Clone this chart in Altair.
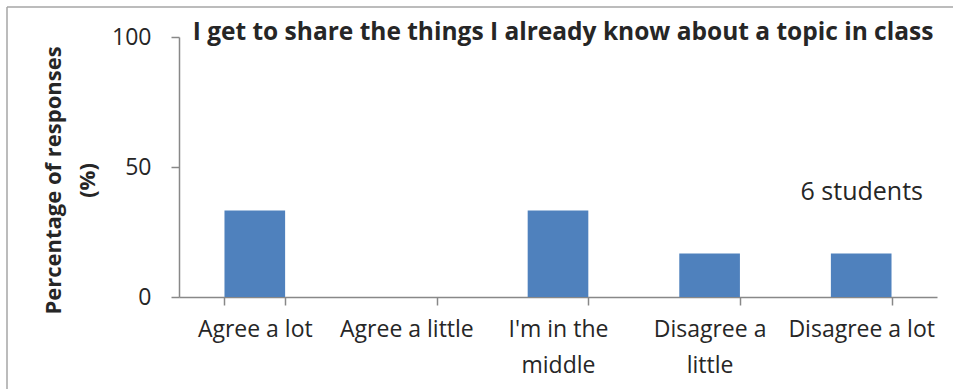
import altair as alt
import pandas as pd

# Survey responses (6 students), percent of responses per option
categories = ["Agree a lot", "Agree a little", "I'm in the middle", "Disagree a little", "Disagree a lot"]
percentages = [33.3, 0.0, 33.3, 16.7, 16.7]
y_ticks = [0, 50, 100]

title_text = "I get to share the things I already know about a topic in class"
note_text = "6 students"

# Two-line tick labels for the longer categories
wrapped = {"I'm in the middle": ["I'm in the", "middle"], "Disagree a little": ["Disagree a", "little"]}

label_expr = " : ".join(
    [f"datum.value == \"{k}\" ? {v!r}" for k, v in wrapped.items()] + ["datum.value"]
)

FONT = "Open Sans"
TEXT = "#262626"
W, H = 758, 260

df = pd.DataFrame({"category": categories, "pct": percentages})

bars = alt.Chart(df).mark_bar(color="#4F81BD").encode(
    x=alt.X(
        "category:N",
        sort=categories,
        scale=alt.Scale(paddingInner=0.6, paddingOuter=0.3),
        axis=alt.Axis(
            title=None, labelAngle=0, tickBand="extent", tickSize=8,
            labelExpr=label_expr, labelPadding=13, labelFontSize=23,
            labelLineHeight=36, labelColor=TEXT, labelFont=FONT,
            domainColor="#888888", tickColor="#888888",
            domainWidth=1.5, tickWidth=1.5, labelBaseline="top",
        ),
    ),
    y=alt.Y(
        "pct:Q",
        scale=alt.Scale(domain=[0, 100], nice=False),
        axis=alt.Axis(
            values=y_ticks, grid=False, tickSize=8, labelPadding=20,
            labelFontSize=23, labelColor=TEXT, labelFont=FONT,
            domainColor="#888888", tickColor="#888888",
            domainWidth=1.5, tickWidth=1.5,
            title=["Percentage of responses", "(%)"],
            titleFontSize=22, titleFont=FONT, titleFontWeight="bold",
            titleColor=TEXT, titleLineHeight=34, titlePadding=12,
            titleY=143,
        ),
    ),
)

title = alt.Chart(pd.DataFrame({"t": [title_text]})).mark_text(
    font=FONT, fontSize=24.5, fontWeight="bold", color=TEXT,
    align="center", baseline="alphabetic",
).encode(x=alt.value(384), y=alt.value(3), text="t:N")

note = alt.Chart(pd.DataFrame({"t": [note_text]})).mark_text(
    font=FONT, fontSize=25, color=TEXT, align="right", baseline="alphabetic",
).encode(x=alt.value(744), y=alt.value(163), text="t:N")

# Chart frame: left and top edges
frame_top = alt.Chart(pd.DataFrame({"k": [0]})).mark_rule(
    color="#A6A6A6", strokeWidth=1.5
).encode(x=alt.value(-172), x2=alt.value(780), y=alt.value(-30))
frame_left = alt.Chart(pd.DataFrame({"k": [0]})).mark_rule(
    color="#A6A6A6", strokeWidth=1.5
).encode(x=alt.value(-172), y=alt.value(-30), y2=alt.value(360))

chart = alt.layer(bars, title, note, frame_top, frame_left).properties(
    width=W, height=H,
    autosize=alt.AutoSizeParams(type="none"),
    padding={"left": 179, "top": 37, "right": 16, "bottom": 92},
    background="white",
).configure_view(stroke=None)

chart.save("out.html", embed_options={"renderer": "svg", "actions": False})
